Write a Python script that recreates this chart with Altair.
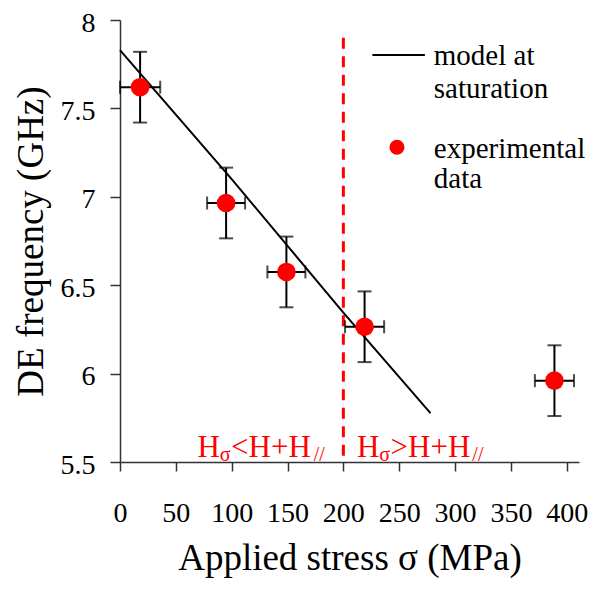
import altair as alt
import pandas as pd

# ---- data ----
stress = [18, 95, 149, 219, 389]            # MPa
freq = [7.62, 6.965, 6.575, 6.265, 5.96]    # GHz
stress_err = [18, 17, 17, 17.5, 17.5]
freq_err = [0.2, 0.2, 0.2, 0.2, 0.2]

model_stress = [0, 100, 200, 278]
model_freq = [7.83, 7.10, 6.345, 5.776]

boundary_stress = [200]
boundary_top = [7.9]
boundary_bottom = [5.5]

x_ticks = [0, 50, 100, 150, 200, 250, 300, 350, 400]
y_ticks = [5.5, 6, 6.5, 7, 7.5, 8]

# region labels (H_sigma <> H + H_//), split into normal and subscript parts
big_text = ["H", "<H+H", "H", ">H+H"]
big_x = [69.3, 99.5, 212.2, 242.3]
small_text = ["σ", "//", "σ", "//"]
small_x = [89.3, 173.5, 232.2, 315.5]
big_y = 5.53
small_y = 5.505

# manual legend
legend_line_x = [226]
legend_line_x2 = [273]
legend_line_y = [7.802]
legend_dot_x = [248]
legend_dot_y = [7.28]
legend_text = ["model at", "saturation", "experimental", "data"]
legend_text_x = [281, 281, 281, 281]
legend_text_y = [7.745, 7.559, 7.219, 7.05]

FONT = "Liberation Serif"
RED = "#ff0000"

X_SCALE = alt.Scale(domain=[0, 411], nice=False, zero=False)
Y_SCALE = alt.Scale(domain=[5.5, 8], nice=False, zero=False)
x_axis = alt.Axis(title="Applied stress σ (MPa)", values=x_ticks, format="d",
                  labelFont=FONT, titleFont=FONT,
                  labelPadding=28, titlePadding=13, tickSize=9)
y_axis = alt.Axis(title="DE frequency (GHz)", values=y_ticks, format=".1~f",
                  labelFont=FONT, titleFont=FONT, labelOffset=3,
                  labelPadding=15, titlePadding=10, tickSize=10)


def X(f="x"):
    return alt.X(f"{f}:Q", scale=X_SCALE, axis=x_axis)


def Y(f="y"):
    return alt.Y(f"{f}:Q", scale=Y_SCALE, axis=y_axis)


pts = pd.DataFrame({
    "x": stress, "y": freq,
    "xlo": [a - e for a, e in zip(stress, stress_err)],
    "xhi": [a + e for a, e in zip(stress, stress_err)],
    "ylo": [a - e for a, e in zip(freq, freq_err)],
    "yhi": [a + e for a, e in zip(freq, freq_err)],
})
model = pd.DataFrame({"x": model_stress, "y": model_freq})
bound = pd.DataFrame({"x": boundary_stress, "y": boundary_top, "y2": boundary_bottom})
big = pd.DataFrame({"x": big_x, "y": [big_y] * len(big_x), "t": big_text})
small = pd.DataFrame({"x": small_x, "y": [small_y] * len(small_x), "t": small_text})
leg_line = pd.DataFrame({"x": legend_line_x, "x2": legend_line_x2, "y": legend_line_y})
leg_dot = pd.DataFrame({"x": legend_dot_x, "y": legend_dot_y})
leg_txt = pd.DataFrame({"x": legend_text_x, "y": legend_text_y, "t": legend_text})

vbar = alt.Chart(pts).mark_rule(color="black", strokeWidth=2).encode(
    x=X(), y=Y("ylo"), y2=alt.Y2("yhi:Q"))
hbar = alt.Chart(pts).mark_rule(color="black", strokeWidth=2).encode(
    x=X("xlo"), x2=alt.X2("xhi:Q"), y=Y())
vcap_lo = alt.Chart(pts).mark_tick(orient="horizontal", size=14, thickness=2, color="black").encode(
    x=X(), y=Y("ylo"))
vcap_hi = alt.Chart(pts).mark_tick(orient="horizontal", size=14, thickness=2, color="black").encode(
    x=X(), y=Y("yhi"))
hcap_lo = alt.Chart(pts).mark_tick(orient="vertical", size=13, thickness=2, color="black").encode(
    x=X("xlo"), y=Y())
hcap_hi = alt.Chart(pts).mark_tick(orient="vertical", size=13, thickness=2, color="black").encode(
    x=X("xhi"), y=Y())

model_line = alt.Chart(model).mark_line(color="black", strokeWidth=2).encode(
    x=X(), y=Y())
dash = alt.Chart(bound).mark_rule(color=RED, strokeWidth=3, strokeDash=[11, 7.5]).encode(
    x=X(), y=Y(), y2=alt.Y2("y2:Q"))
points = alt.Chart(pts).mark_circle(size=346, color=RED, opacity=1).encode(
    x=X(), y=Y())

big_lbl = alt.Chart(big).mark_text(font=FONT, fontSize=31, color=RED, align="left",
                                   baseline="alphabetic").encode(x=X(), y=Y(), text="t:N")
small_lbl = alt.Chart(small).mark_text(font=FONT, fontSize=20, color=RED, align="left",
                                       baseline="alphabetic").encode(x=X(), y=Y(), text="t:N")

leg_l = alt.Chart(leg_line).mark_rule(color="black", strokeWidth=2).encode(
    x=X(), x2=alt.X2("x2:Q"), y=Y())
leg_d = alt.Chart(leg_dot).mark_circle(size=227, color=RED, opacity=1).encode(
    x=X(), y=Y())
leg_t = alt.Chart(leg_txt).mark_text(font=FONT, fontSize=29, color="black", align="left",
                                     baseline="alphabetic").encode(x=X(), y=Y(), text="t:N")

chart = alt.layer(
    dash, vbar, hbar, vcap_lo, vcap_hi, hcap_lo, hcap_hi, model_line, points,
    big_lbl, small_lbl, leg_l, leg_d, leg_t
).properties(
    width=459, height=442,
    autosize=alt.AutoSizeParams(type="none"),
    padding={"left": 112, "top": 12, "right": 9, "bottom": 119},
).configure(font=FONT).configure_view(stroke=None).configure_axis(
    grid=False,
    domainColor="#333333", domainWidth=1.5,
    tickColor="#333333", tickWidth=1.5,
    labelFont=FONT, labelFontSize=28, labelColor="black",
    titleFont=FONT, titleFontSize=37, titleFontWeight="normal", titleColor="black",
    labelFlush=False, labelOverlap=False,
)

chart.save("out.html", embed_options={"renderer": "svg", "actions": False})
